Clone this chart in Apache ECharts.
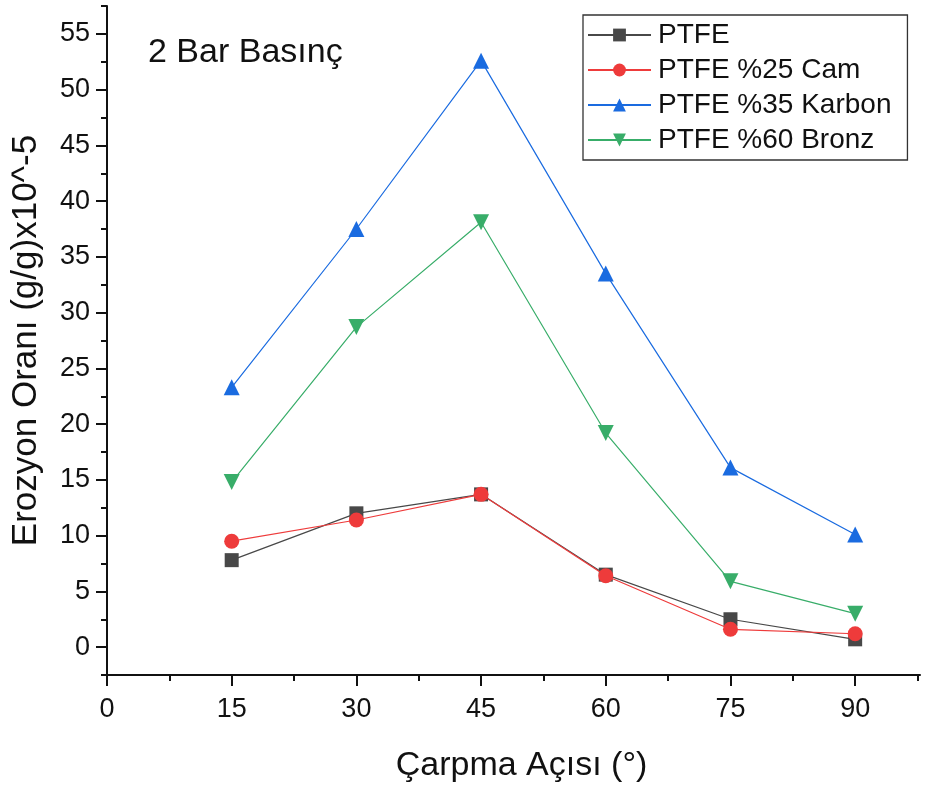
<!DOCTYPE html>
<html>
<head>
<meta charset="utf-8">
<script src="https://cdn.jsdelivr.net/npm/echarts@6/dist/echarts.min.js"></script>
<style>html,body{margin:0;padding:0;background:#fff}#c{width:930px;height:789px}</style>
</head>
<body>
<div id="c"></div>
<script>
const angles = [15, 30, 45, 60, 75, 90];
const ptfe = [7.8, 12.0, 13.7, 6.5, 2.5, 0.7];
const ptfeCam = [9.5, 11.4, 13.7, 6.4, 1.6, 1.2];
const ptfeKarbon = [23.3, 37.5, 52.6, 33.5, 16.1, 10.1];
const ptfeBronz = [14.8, 28.7, 38.1, 19.2, 5.9, 3.0];
const seriesNames = ['PTFE', 'PTFE %25 Cam', 'PTFE %35 Karbon', 'PTFE %60 Bronz'];
const xMajor = [0, 15, 30, 45, 60, 75, 90];
const xMinor = [7.5, 22.5, 37.5, 52.5, 67.5, 82.5, 97.5];
const yMajor = [0, 5, 10, 15, 20, 25, 30, 35, 40, 45, 50, 55];
const yMinor = [-2.5, 2.5, 7.5, 12.5, 17.5, 22.5, 27.5, 32.5, 37.5, 42.5, 47.5, 52.5, 57.5];

const FONT = 'Liberation Sans, Arial, sans-serif';
const grid = {left: 107, right: 10, top: 6, bottom: 114};
const X_MIN = 0, X_MAX = 97.8, Y_MIN = -2.5, Y_MAX = 57.5;
const axisLine = {show: true, onZero: false, lineStyle: {color: '#111', width: 2}};

function pairs(vals) { return angles.map((a, i) => [a, vals[i]]); }

const colors = ['#484848', '#ee3b3b', '#1a6be0', '#38ad69'];
const symbols = ['rect', 'circle', 'triangle', 'path://M0,0 L10,0 L5,9 Z'];
const sizes = [14, 15, 16, 16];
const data = [ptfe, ptfeCam, ptfeKarbon, ptfeBronz];

const chart = echarts.init(document.getElementById('c'), null, {renderer: 'canvas'});
chart.setOption({
  animation: false,
  backgroundColor: '#fff',
  textStyle: {fontFamily: FONT},
  title: {text: '2 Bar Basınç', left: 143, top: 31,
    textStyle: {fontFamily: FONT, fontSize: 34, fontWeight: 'normal', color: '#111'}},
  legend: {
    data: seriesNames,
    orient: 'vertical', left: 583, top: 15,
    padding: [6, 16, 6, 4],
    itemWidth: 63, itemHeight: 16, itemGap: 7,
    borderColor: '#333', borderWidth: 1.3,
    textStyle: {fontFamily: FONT, fontSize: 28, color: '#111', padding: [0, 0, 0, 2]}
  },
  grid: [grid],
  xAxis: [{
    type: 'value', min: X_MIN, max: X_MAX, position: 'bottom',
    name: 'Çarpma Açısı (°)', nameLocation: 'middle', nameGap: 74,
    nameTextStyle: {fontFamily: FONT, fontSize: 34, color: '#111', padding: [0, 0, 0, 16]},
    axisLine: axisLine,
    axisTick: {show: true, length: 11, customValues: xMajor, lineStyle: {color: '#111', width: 2}},
    axisLabel: {customValues: xMajor, margin: 21, fontFamily: FONT, fontSize: 27, color: '#111'},
    splitLine: {show: false}
  }, {
    type: 'value', min: X_MIN, max: X_MAX, position: 'bottom',
    axisLine: {show: false, onZero: false},
    axisTick: {show: true, length: 6, customValues: xMinor, lineStyle: {color: '#111', width: 2}},
    axisLabel: {show: false},
    splitLine: {show: false}
  }],
  yAxis: [{
    type: 'value', min: Y_MIN, max: Y_MAX, position: 'left',
    name: 'Erozyon Oranı (g/g)x10^-5', nameLocation: 'middle', nameGap: 63,
    nameTextStyle: {fontFamily: FONT, fontSize: 35, color: '#111'},
    axisLine: axisLine,
    axisTick: {show: true, length: 11, customValues: yMajor, lineStyle: {color: '#111', width: 2}},
    axisLabel: {customValues: yMajor, margin: 17, fontFamily: FONT, fontSize: 27, color: '#111'},
    splitLine: {show: false}
  }, {
    type: 'value', min: Y_MIN, max: Y_MAX, position: 'left',
    axisLine: {show: false, onZero: false},
    axisTick: {show: true, length: 6, customValues: yMinor, lineStyle: {color: '#111', width: 2}},
    axisLabel: {show: false},
    splitLine: {show: false}
  }],
  series: seriesNames.map((name, i) => ({
    name: name, type: 'line', xAxisIndex: 0, yAxisIndex: 0,
    data: pairs(data[i]),
    symbol: symbols[i], symbolSize: sizes[i],
    color: colors[i],
    itemStyle: {color: colors[i]},
    lineStyle: {color: colors[i], width: 1.2},
    z: 2 + i
  }))
});
</script>
</body>
</html>
